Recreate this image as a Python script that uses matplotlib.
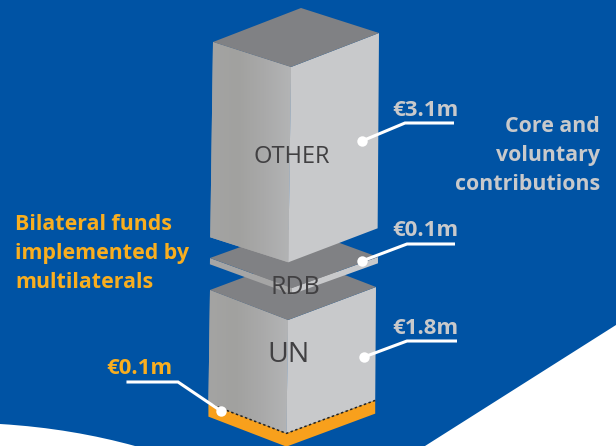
import numpy as np
import matplotlib
matplotlib.use('Agg')
import matplotlib.pyplot as plt
from matplotlib.colors import LinearSegmentedColormap
from matplotlib.patches import Polygon, PathPatch
from matplotlib.path import Path

# values, EUR million
blocks = ['OTHER', 'RDB', 'UN']
values = [3.1, 0.1, 1.8]
value_labels = ['€3.1m', '€0.1m', '€1.8m']
orange_value = 0.1
orange_label = '€0.1m'
core_text = ['Core and', 'voluntary', 'contributions']
bilateral_text = ['Bilateral funds', 'implemented by', 'multilaterals']

BLUE = '#0053a4'
GREY_TXT = '#c8c9cb'
ORANGE_TXT = '#f9ae1f'
ORANGE = '#f8a01c'
PX_PER_M = 63.0
FONT = 'Open Sans'

fig = plt.figure(figsize=(6.16, 4.46), dpi=100, facecolor=BLUE)
ax = fig.add_axes([0, 0, 1, 1])
ax.set_xlim(0, 616)
ax.set_ylim(446, 0)
ax.axis('off')

# white shapes along the bottom
ax.add_patch(Polygon([(616, 325), (616, 446), (425, 446)], fc='white', ec='none', zorder=1))
curve = Path([(0, 424), (50, 427), (95, 435), (135, 446), (0, 446), (0, 424)],
             [Path.MOVETO, Path.CURVE4, Path.CURVE4, Path.CURVE4, Path.LINETO, Path.CLOSEPOLY])
ax.add_patch(PathPatch(curve, fc='white', ec='none', zorder=1))

left_cmap = LinearSegmentedColormap.from_list('g', ['#a4a4a3', '#a1a19f', '#a9a9a9', '#b3b4b5'])


def draw_block(left, front, right, height, z, grad=True):
    # left, front, right are the corners of the top face
    back = (left[0] + right[0] - front[0], left[1] + right[1] - front[1])
    taper = height * 0.014
    lb = (left[0] - taper, left[1] + height)
    fb = (front[0] - taper, front[1] + height)
    rb = (right[0] - taper * 0.5, right[1] + height)
    face = Polygon([left, front, fb, lb], fc='#a5a5a5', ec='none', zorder=z)
    ax.add_patch(face)
    if grad:
        im = ax.imshow(np.linspace(0, 1, 64).reshape(1, -1), cmap=left_cmap, extent=(lb[0], front[0], 446, 0),
                       aspect='auto', interpolation='bilinear', zorder=z)
        im.set_clip_path(face)
    ax.add_patch(Polygon([front, right, rb, fb], fc='#c8c9cb', ec='none', zorder=z))
    ax.add_patch(Polygon([left, back, right, front], fc='#808184', ec='none', zorder=z + 0.1))
    return lb, fb, rb


# UN with the orange slab under it
un_h = values[2] * PX_PER_M
lb, fb, rb = draw_block((210, 290), (288, 320), (376, 287), un_h, 4)
slab_h = orange_value * 2.1 * PX_PER_M
ax.add_patch(Polygon([lb, fb, rb, (rb[0], rb[1] + slab_h), (fb[0], fb[1] + slab_h), (lb[0], lb[1] + slab_h)],
                     fc=ORANGE, ec='none', zorder=4))
ax.plot([lb[0], fb[0], rb[0]], [lb[1], fb[1], rb[1]], color='#222222', lw=1.1,
        dashes=(1.6, 1.6), zorder=4.5)

# RDB plate, then OTHER on top
draw_block((210, 258), (292, 288), (378, 257), values[1] * PX_PER_M, 6, grad=False)
draw_block((213, 42), (291, 67), (379, 33), values[0] * PX_PER_M, 8)

# block names
ax.text(292, 157, blocks[0], fontsize=17, color='#414042', ha='center', va='center', family=FONT, zorder=10)
ax.text(295, 287, blocks[1], fontsize=18, color='#414042', ha='center', va='center', family=FONT, zorder=10)
ax.text(288, 355, blocks[2], fontsize=20.5, color='#414042', ha='center', va='center', family=FONT, zorder=10)

# value labels with leader lines
leaders = [[(362, 141), (405, 123), (454, 123)],
           [(362, 261), (407, 244), (455, 244)],
           [(364, 357), (407, 341), (457, 341)]]
label_y = [111, 230, 328]
for lab, y, pts in zip(value_labels, label_y, leaders):
    ax.text(425.5, y, lab, fontsize=16, fontweight='bold', color=GREY_TXT, ha='center', va='center',
            family=FONT, zorder=10)
    xs, ys = zip(*pts)
    ax.plot(xs, ys, color='white', lw=2.2, solid_joinstyle='miter', solid_capstyle='butt', zorder=10)
    ax.plot(xs[0], ys[0], 'o', color='white', ms=7.5, mew=0, zorder=10)

ax.text(139.5, 369, orange_label, fontsize=16, fontweight='bold', color=ORANGE_TXT, ha='center', va='center',
        family=FONT, zorder=10)
ax.plot([128, 178, 221], [382, 382, 411], color='white', lw=2.2, solid_joinstyle='miter', zorder=10)
ax.plot(221, 411, 'o', color='white', ms=7.5, mew=0, zorder=10)

# side captions
for t, y in zip(core_text, [127, 156, 184]):
    ax.text(600, y, t, fontsize=15.4, fontweight='bold', color=GREY_TXT, ha='right', va='center', family=FONT)
for t, y in zip(bilateral_text, [224, 254, 283]):
    ax.text(15, y, t, fontsize=15.4, fontweight='bold', color=ORANGE_TXT, ha='left', va='center', family=FONT)

fig.savefig('out.png', dpi=100, facecolor=BLUE)
